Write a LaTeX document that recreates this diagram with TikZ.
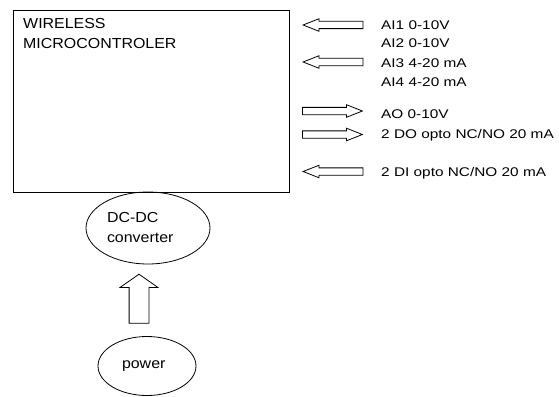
\documentclass[tikz,border=0pt]{standalone}
\usepackage{fontspec}
\setmainfont{Liberation Sans}
\newfontfamily\boxfont[FakeStretch=1.1]{Liberation Sans}
\newfontfamily\sigfont[FakeStretch=1.22]{Liberation Sans}
\usetikzlibrary{positioning,calc,shapes.geometric,shapes.arrows}
\tikzset{
  mcubox/.style={rectangle, draw=black, line width=0.8pt, minimum width=276pt,
    minimum height=181.5pt, inner sep=0pt},
  title/.style={font=\boxfont\fontsize{14.5}{19.5}\selectfont, align=left, inner sep=0pt},
  blob/.style={ellipse, draw=black, line width=0.8pt, inner sep=0pt, align=left,
    font=\boxfont\fontsize{14.5}{20}\selectfont},
  sigarrow/.style={single arrow, draw=black, line width=0.8pt, inner xsep=0pt,
    inner ysep=3.25pt, minimum width=11.7pt, minimum height=60pt,
    single arrow head extend=2.6pt, single arrow tip angle=43, single arrow head indent=0pt},
  sigin/.style={sigarrow, rotate=180, anchor=tip},
  sigout/.style={sigarrow, anchor=tail},
  sig/.style={font=\sigfont\fontsize{12.6}{19}\selectfont, anchor=base west, inner sep=0pt},
  feed/.style={single arrow, draw=black, line width=0.8pt, inner xsep=0pt,
    inner ysep=9.5pt, minimum width=37pt, minimum height=49pt,
    single arrow head extend=9pt, single arrow tip angle=110,
    single arrow head indent=0pt, rotate=90, anchor=tail},
}
\begin{document}
\begin{tikzpicture}[x=1pt, y=-1pt]
  \useasboundingbox (0,0) rectangle (559,396);
  \node[mcubox, anchor=north west] (mcu) at (13,10) {};
  \node[title, anchor=north west] (name) at (23,18.3) {WIRELESS\\MICROCONTROLER};
  % signal side
  \node[sigin]  (ai12) at (302,25) {};
  \node[sigin]  (ai34) at (302,62) {};
  \node[sigout] (ao)   at (302,111) {};
  \node[sigout] (do)   at (302,134.5) {};
  \node[sigin]  (di)   at (302,171.5) {};
  \node[sig] (ai1) at (381,30) {AI1 0-10V};
  \node[sig] (ai2) at (381,47.5) {AI2 0-10V};
  \node[sig] (ai3) at (381,67) {AI3 4-20 mA};
  \node[sig] (ai4) at (381,86.5) {AI4 4-20 mA};
  \node[sig] (aol) at (381,118.5) {AO 0-10V};
  \node[sig] (dol) at (381,138.5) {2 DO opto NC/NO 20 mA};
  \node[sig] (dil) at (381,176) {2 DI opto NC/NO 20 mA};
  % supply
  \node[blob, minimum width=124pt, minimum height=72pt, text width=82pt] (dcdc)
    at (148,228) {DC-DC\\converter};
  \node[blob, minimum width=98pt, minimum height=59pt, text width=50pt] (power)
    at (147,366) {power};
  \node[feed] (lift) at ($(power.north)+(-8,-12.5)$) {};
\end{tikzpicture}
\end{document}
